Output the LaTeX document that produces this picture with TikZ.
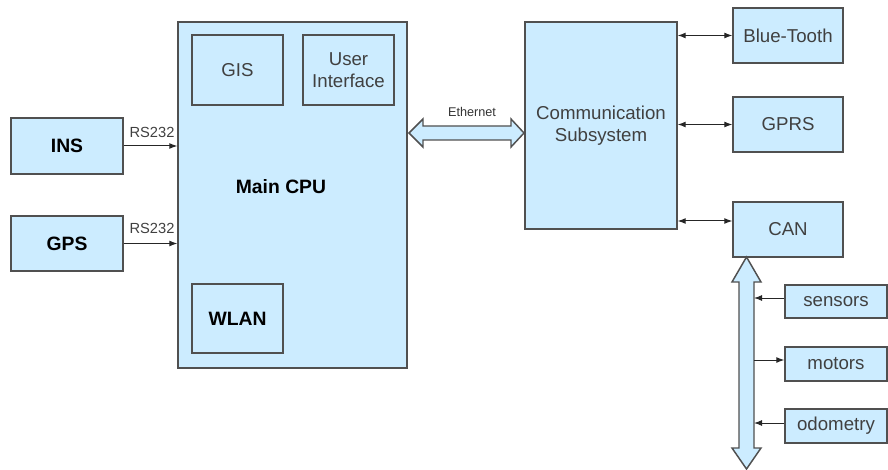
\documentclass[tikz,border=0pt]{standalone}
\usepackage{fontspec}
\setmainfont{Liberation Sans}
\usetikzlibrary{arrows.meta}

\definecolor{boxblue}{RGB}{204,236,255}
\definecolor{boxline}{RGB}{80,80,80}
\definecolor{txtgray}{RGB}{64,64,64}

\tikzset{every picture/.style={line width=0.75pt}}
\tikzset{
  blk/.style={draw=boxline, fill=boxblue, line width=1.1pt, inner sep=0pt, align=center,
    text=txtgray, font=\fontsize{14}{16.5}\selectfont},
  boldblk/.style={blk, text=black, font=\bfseries\fontsize{14.5}{17}\selectfont},
  link/.style={draw=black!85, line width=0.75pt, -{Latex[length=6pt,width=4.5pt]}},
  twolink/.style={link, {Latex[length=6pt,width=4.5pt]}-{Latex[length=6pt,width=4.5pt]}},
  fatarrow/.style={draw=boxline, fill=boxblue, line width=1.1pt, line join=miter},
  smalltxt/.style={inner sep=0.75pt, text=txtgray, font=\fontsize{10.5}{12}\selectfont},
}

\begin{document}
\begin{tikzpicture}[x=0.75pt,y=0.75pt,yscale=-1,xscale=1]
\useasboundingbox (0,0) rectangle (888,470);

%Sensors side
\node [boldblk, minimum width=84pt, minimum height=42pt] (ins) at (67,146) {INS};
\node [boldblk, minimum width=84pt, minimum height=41.25pt] (gps) at (67,243.5) {GPS};

%Main CPU and its parts
\node [blk, minimum width=171.75pt, minimum height=259.5pt] (cpu) at (292.5,195) {};
\node [blk, minimum width=68.25pt, minimum height=52.5pt] (gis) at (237.5,70) {GIS};
\node [blk, minimum width=68.25pt, minimum height=52.5pt] (ui) at (348.5,70) {User\\Interface};
\node [boldblk, minimum width=68.25pt, minimum height=51.75pt] (wlan) at (237.5,318.5) {WLAN};
% Text Node
\node [inner sep=0.75pt, font=\bfseries\fontsize{14.5}{17}\selectfont] (cpulbl) at (281,187) {Main CPU};

%Communication
\node [blk, minimum width=114pt, minimum height=155.25pt] (comm) at (601,125.5) {Communication\\Subsystem};
\node [blk, minimum width=82.5pt, minimum height=41.25pt] (bt) at (788,35.5) {Blue-Tooth};
\node [blk, minimum width=82.5pt, minimum height=41.25pt] (gprs) at (788,124.5) {GPRS};
\node [blk, minimum width=82.5pt, minimum height=41.25pt] (can) at (788,229.5) {CAN};

%CAN devices
\node [blk, minimum width=76.5pt, minimum height=24.75pt] (sen) at (836,301.5) {sensors};
\node [blk, minimum width=76.5pt, minimum height=25.5pt] (mot) at (836,364) {motors};
\node [blk, minimum width=76.5pt, minimum height=25.5pt] (odo) at (836,426) {odometry};

%RS232 lines
\draw [link] (ins.east) -- (ins.east -| cpu.west);
\draw [link] (gps.east) -- (gps.east -| cpu.west);
% Text Node
\node [smalltxt, font=\fontsize{11}{13}\selectfont] (rs1) at (152,132) {RS232};
% Text Node
\node [smalltxt, font=\fontsize{11}{13}\selectfont] (rs2) at (152,228.5) {RS232};

%Ethernet block arrow
\draw [fatarrow] (409,133) -- (423,119) -- (423,126) -- (511,126) -- (511,119) -- (524,133)
  -- (511,147) -- (511,140) -- (423,140) -- (423,147) -- cycle;
% Text Node
\node [smalltxt, font=\fontsize{9.5}{11}\selectfont, text=black!80] (eth) at (472,112) {Ethernet};

%Links to radios
\draw [twolink] (bt.west -| comm.east) -- (bt.west);
\draw [twolink] (gprs.west -| comm.east) -- (gprs.west);
\draw [twolink] (comm.east |- 0,221) -- (can.west |- 0,221);

%CAN bus
\draw [fatarrow] (746.5,257) -- (761,282) -- (754,282) -- (754,448) -- (761,448) -- (746.5,469)
  -- (732,448) -- (739,448) -- (739,282) -- (732,282) -- cycle;
\coordinate (bus) at (754,360);
\draw [link] (sen.west |- 0,298) -- (bus |- 0,298);
\draw [link] (bus |- 0,360) -- (mot.west |- 0,360);
\draw [link] (odo.west |- 0,423) -- (bus |- 0,423);
\end{tikzpicture}
\end{document}
